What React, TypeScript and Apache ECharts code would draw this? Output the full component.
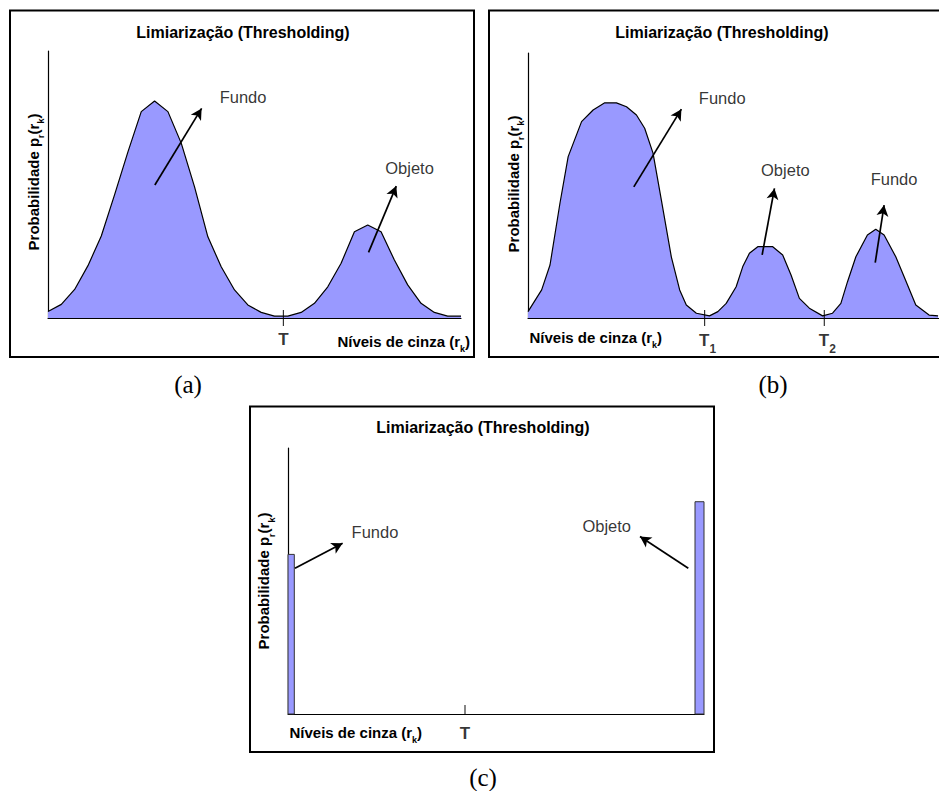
import React, { useEffect, useRef } from "react";
import * as echarts from "echarts";

// ---------- Panel (a): bimodal histogram, single threshold ----------
const binsA = [0, 1, 2, 3, 4, 5, 6, 7, 8, 9, 10, 11, 12, 13, 14, 15, 16, 17, 18, 19, 20, 21, 22, 23, 24, 25, 26, 27, 28, 29, 30, 31];
const probA = [2.4, 5.1, 10.7, 19.6, 30.7, 46.2, 62.2, 77.3, 81.3, 77.3, 65.5, 49.1, 30.4, 19.2, 10.5, 4.9, 2.1, 0.7, 0.7, 2.1, 5.5, 11.7, 20.5, 32.3, 34.8, 32.3, 21.7, 12.4, 5.5, 2.1, 0.7, 0.7];
const thresholdsA = [17.67];
const thresholdNamesA = ["T"];
const thresholdSubsA = [""];
const noteNamesA = ["Fundo", "Objeto"];
const notePosA = [[14.64, 82.8], [27.14, 56.1]];
const arrowFromA = [[8.02, 49.8], [24.06, 24.6]];
const arrowToA = [[11.53, 78.5], [26.14, 49.4]];

// ---------- Panel (b): trimodal histogram, two thresholds ----------
const grayB = [0, 1.03, 1.66, 2.41, 3.03, 4.04, 4.91, 5.79, 6.67, 7.43, 8.18, 8.8, 9.43, 10.06, 10.81, 11.44, 11.94, 12.7, 13.69, 14.32, 14.95, 15.7, 16.2, 16.7, 17.33, 18.46, 19.21, 19.84, 20.47, 21.22, 22.22, 22.97, 23.6, 24.1, 24.73, 25.6, 26.23, 26.86, 27.74, 28.37, 29.25, 30.25, 30.93];
const probB = [2.4, 10.6, 20, 43.3, 60.9, 74.1, 78.5, 81.2, 81.2, 79.7, 76.6, 71.6, 62.2, 44.5, 23.1, 10.6, 4.9, 1.8, 0.8, 2.4, 5.5, 11.8, 19.4, 24.4, 26.9, 26.9, 23.8, 16.2, 7.4, 3.7, 0.8, 1.8, 5.5, 13.7, 23.1, 31.3, 33.5, 31.3, 23.1, 15.6, 4.9, 1.1, 0.8];
const thresholdsB = [13.32, 22.35];
const thresholdNamesB = ["T", "T"];
const thresholdSubsB = ["1", "2"];
const noteNamesB = ["Fundo", "Objeto", "Fundo"];
const notePosB = [[14.65, 83.1], [19.41, 55.8], [27.61, 52.3]];
const arrowFromB = [[7.98, 49.5], [17.66, 23.8], [26.19, 20.9]];
const arrowToB = [[11.57, 78.8], [18.59, 48.9], [26.86, 42.6]];

// ---------- Panel (c): two spikes ----------
const barStartC = [0, 30.33];
const barEndC = [0.47, 31];
const probC = [60, 79.8];
const thresholdsC = [13.19];
const thresholdNamesC = ["T"];
const thresholdSubsC = [""];
const noteNamesC = ["Fundo", "Objeto"];
const notePosC = [[6.48, 68.5], [23.75, 70.7]];
const arrowFromC = [[0.52, 54.8], [29.83, 54.8]];
const arrowToC = [[4.07, 64.2], [26.23, 66.7]];

const TITLE = "Limiarização (Thresholding)";
const FONT = '"Liberation Sans", Arial, sans-serif';
const FILL = "#9999ff";

const subRich = (size: number, subSize: number, weight: string) => ({
  m: { fontSize: size, fontWeight: weight, fontFamily: FONT, fill: "#000", color: "#000", lineHeight: size + 4 },
  s: { fontSize: subSize, fontWeight: weight, fontFamily: FONT, fill: "#000", color: "#000", verticalAlign: "bottom", lineHeight: size + 4, padding: [0, 0, -3, 0] },
});

function axesFor(idx: number, max: number) {
  const x = {
    type: "value", gridIndex: idx, min: 0, max,
    axisLine: { show: true, onZero: false, lineStyle: { color: "#000", width: 1.2 } },
    axisTick: { show: false }, axisLabel: { show: false }, splitLine: { show: false },
  };
  const y = {
    type: "value", gridIndex: idx, min: 0, max: 100,
    axisLine: { show: true, lineStyle: { color: "#000", width: 1.2 } },
    axisTick: { show: false }, axisLabel: { show: false }, splitLine: { show: false },
  };
  return { x, y };
}

function tickSeries(idx: number, ts: number[], below: boolean) {
  return {
    type: "scatter", xAxisIndex: idx, yAxisIndex: idx, silent: true, clip: false, z: 5,
    symbol: "rect",
    symbolSize: below ? [1.2, 16] : [1.2, 9],
    symbolOffset: below ? [0, 0] : [0, -4.5],
    itemStyle: { color: "#000" },
    label: { show: false },
    data: ts.map((t) => [t, 0]),
  };
}

function tickLabelSeries(idx: number, ts: number[], names: string[], subs: string[], labelDy: number) {
  return {
    type: "scatter", xAxisIndex: idx, yAxisIndex: idx, silent: true, clip: false, z: 6,
    symbolSize: 2, itemStyle: { color: "rgba(0,0,0,0)" },
    data: ts.map((t, k) => ({
      value: [t, 0],
      label: {
        show: true, position: "inside", offset: [subs[k] ? 3 : 0, labelDy],
        color: "#000", fontSize: 17, fontWeight: 900, fontFamily: "Arial, sans-serif", textBorderWidth: 0,
        formatter: subs[k] ? `${names[k]}{s|${subs[k]}}` : names[k],
        rich: {
          s: { fontSize: 12, fontWeight: 900, fontFamily: "Arial, sans-serif", color: "#000", verticalAlign: "bottom", lineHeight: 20, padding: [0, 0, -5, 0] },
        },
      },
    })),
  };
}

function notesSeries(idx: number, names: string[], pos: number[][], from: number[][], to: number[][]) {
  return {
    type: "scatter", xAxisIndex: idx, yAxisIndex: idx, silent: true, clip: false, z: 6,
    symbolSize: 2, itemStyle: { color: "rgba(0,0,0,0)" },
    label: { show: true, position: "inside", formatter: "{b}", color: "#000", textBorderWidth: 0, fontSize: 16.5, fontFamily: FONT },
    data: names.map((n, i) => ({ name: n, value: pos[i] })),
    markLine: {
      silent: true, symbol: ["none", "arrow"], symbolSize: [9, 11],
      label: { show: false },
      lineStyle: { color: "#000", width: 1.7, type: "solid" },
      emphasis: { disabled: true },
      data: from.map((f, i) => [{ coord: f }, { coord: to[i] }]),
    },
  };
}

export default function App() {
  const ref = useRef<HTMLDivElement>(null);
  useEffect(() => {
    if (!ref.current) return;
    const chart = echarts.init(ref.current, null, { renderer: "svg" });
    const aA = axesFor(0, 31);
    const aB = axesFor(1, 31);
    const aC = axesFor(2, 31);

    const yLabel = "{m|Probabilidade p}{s|r}{m|(r}{s|k}{m|)}";
    const xName = "{m|Níveis de cinza (r}{s|k}{m|)}";
    const richY = subRich(15, 9, "bold");
    const richX = subRich(15, 9, "bold");

    const txt = (x: number, y: number, text: string, font: string, align = "center", rot = 0, rich?: any) => ({
      type: "text", x, y, rotation: rot, silent: true,
      style: { text, font, fill: "#000", align, textAlign: align, verticalAlign: "middle", textVerticalAlign: "middle", rich },
    });
    const box = (x: number, y: number, w: number, h: number) => ({
      type: "rect", silent: true, shape: { x, y, width: w, height: h },
      style: { fill: "none", stroke: "#000", lineWidth: 2 },
    });

    const option: any = {
      animation: false,
      grid: [
        { left: 48, top: 51, width: 413, height: 267 },
        { left: 528, top: 53, width: 412, height: 265 },
        { left: 288, top: 448, width: 416, height: 266 },
      ],
      xAxis: [aA.x, aB.x, aC.x],
      yAxis: [aA.y, aB.y, aC.y],
      series: [
        {
          type: "line", xAxisIndex: 0, yAxisIndex: 0, silent: true, showSymbol: false, symbol: "none",
          lineStyle: { color: "#000", width: 1.2 }, areaStyle: { color: FILL, opacity: 1 },
          data: binsA.map((b, i) => [b, probA[i]]),
        },
        {
          type: "line", xAxisIndex: 1, yAxisIndex: 1, silent: true, showSymbol: false, symbol: "none",
          lineStyle: { color: "#000", width: 1.2 }, areaStyle: { color: FILL, opacity: 1 },
          data: grayB.map((g, i) => [g, probB[i]]),
        },
        {
          type: "custom", xAxisIndex: 2, yAxisIndex: 2, silent: true, clip: false,
          data: barStartC.map((s, i) => [s, barEndC[i], probC[i]]),
          encode: { x: [0, 1], y: 2 },
          renderItem: (_p: any, api: any) => {
            const tl = api.coord([api.value(0), api.value(2)]);
            const br = api.coord([api.value(1), 0]);
            return {
              type: "rect",
              shape: { x: tl[0], y: tl[1], width: br[0] - tl[0], height: br[1] - tl[1] },
              style: { fill: FILL, stroke: "#333", lineWidth: 1 },
            };
          },
        },
        tickSeries(0, thresholdsA, true),
        tickSeries(1, thresholdsB, true),
        tickSeries(2, thresholdsC, false),
        tickLabelSeries(0, thresholdsA, thresholdNamesA, thresholdSubsA, 21),
        tickLabelSeries(1, thresholdsB, thresholdNamesB, thresholdSubsB, 22),
        tickLabelSeries(2, thresholdsC, thresholdNamesC, thresholdSubsC, 19),
        notesSeries(0, noteNamesA, notePosA, arrowFromA, arrowToA),
        notesSeries(1, noteNamesB, notePosB, arrowFromB, arrowToB),
        notesSeries(2, noteNamesC, notePosC, arrowFromC, arrowToC),
      ],
      graphic: [
        box(10, 10.5, 464, 346.5),
        box(489, 10.5, 460, 346.5),
        box(250, 406.5, 464, 345.5),
        txt(243, 32, TITLE, `bold 16px ${FONT}`),
        txt(722, 32, TITLE, `bold 16px ${FONT}`),
        txt(483, 427, TITLE, `bold 16px ${FONT}`),
        txt(33, 182, yLabel, `bold 15px ${FONT}`, "center", Math.PI / 2, richY),
        txt(513, 184, yLabel, `bold 15px ${FONT}`, "center", Math.PI / 2, richY),
        txt(263.5, 581, yLabel, `bold 15px ${FONT}`, "center", Math.PI / 2, richY),
        txt(470, 341, xName, `bold 15px ${FONT}`, "right", 0, richX),
        txt(529.5, 337, xName, `bold 15px ${FONT}`, "left", 0, richX),
        txt(289.5, 732, xName, `bold 15px ${FONT}`, "left", 0, richX),
        txt(188, 384, "(a)", `25px "Liberation Serif", "Times New Roman", serif`),
        txt(773, 384, "(b)", `25px "Liberation Serif", "Times New Roman", serif`),
        txt(483, 777, "(c)", `25px "Liberation Serif", "Times New Roman", serif`),
      ],
    };
    chart.setOption(option);
    return () => chart.dispose();
  }, []);
  return <div ref={ref} style={{ position: "absolute", left: 0, top: 0, width: 939, height: 791, background: "#fff" }} />;
}
